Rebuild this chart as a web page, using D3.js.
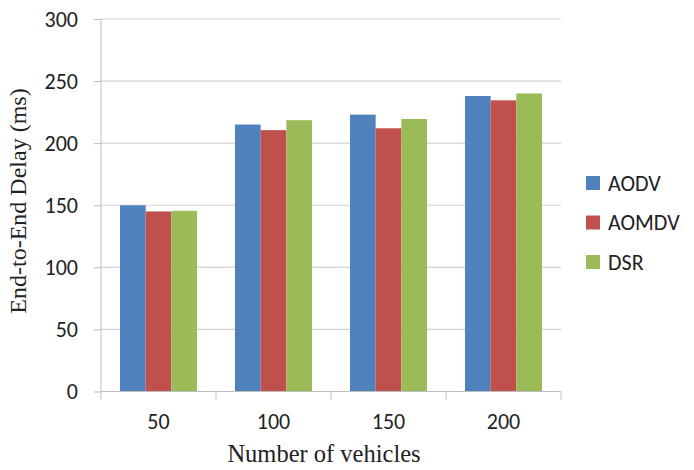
<!DOCTYPE html>
<html><head><meta charset="utf-8">
<script src="https://cdn.jsdelivr.net/npm/d3@7"></script>
<style>body{margin:0;background:#fff}svg{display:block}</style>
</head><body><svg id="c" width="694" height="470"></svg>
<script>
const categories = ["50", "100", "150", "200"];
const seriesNames = ["AODV", "AOMDV", "DSR"];
const aodv = [150, 215, 223, 238];
const aomdv = [145, 210.5, 212, 234.5];
const dsr = [145.5, 218.5, 219.5, 240];
const yTicks = [0, 50, 100, 150, 200, 250, 300];
const colors = ["#4F81BD", "#C0504D", "#9BBB59"];
const seriesValues = [aodv, aomdv, dsr];

(function () {
const svg = d3.select("#c");
const mLeft = 101, mRight = 561, mTop = 19, mBottom = 391.5;
const sans = "Carlito, Lato, 'Open Sans', sans-serif";
const serif = "'Liberation Serif', 'Times New Roman', serif";

const x0 = d3.scaleBand().domain(categories).range([mLeft, mRight]).paddingInner(0.33).paddingOuter(0.165);
const x1 = d3.scaleBand().domain(seriesNames).range([0, x0.bandwidth()]);
const y = d3.scaleLinear().domain([0, 300]).range([mBottom, mTop]);

svg.append("g").selectAll("line").data(yTicks.filter(d => d > 0)).join("line")
  .attr("x1", mLeft).attr("x2", mRight)
  .attr("y1", d => y(d)).attr("y2", d => y(d))
  .attr("stroke", "#d4d4d4").attr("stroke-width", 1.2);

const groups = svg.append("g").selectAll("g").data(categories).join("g")
  .attr("transform", c => `translate(${x0(c)},0)`);
groups.selectAll("rect").data((c, i) => seriesNames.map((s, j) => ({s, v: seriesValues[j][i], j})))
  .join("rect")
  .attr("x", d => x1(d.s)).attr("width", x1.bandwidth())
  .attr("y", d => y(d.v)).attr("height", d => y(0) - y(d.v))
  .attr("fill", d => colors[d.j]);

const yAxis = d3.axisLeft(y).tickValues(yTicks).tickSize(7).tickPadding(16);
const gy = svg.append("g").attr("transform", `translate(${mLeft},0)`).call(yAxis);
gy.select(".domain").attr("stroke", "#bdbdbd").attr("d", `M0,${mBottom}V${mTop}`);
gy.selectAll(".tick line").attr("stroke", "#bdbdbd");
gy.selectAll(".tick text").attr("font-family", sans).attr("font-size", 22).attr("fill", "#222");

const xAxis = d3.axisBottom(x0).tickSize(0).tickPadding(22);
const gx = svg.append("g").attr("transform", `translate(0,${mBottom})`).call(xAxis);
gx.select(".domain").attr("stroke", "#bdbdbd").attr("d", `M${mLeft},0H${mRight}`);
gx.selectAll(".tick text").attr("font-family", sans).attr("font-size", 22).attr("fill", "#222");
const step = x0.step();
const seps = d3.range(categories.length + 1).map(i => mLeft + i * step);
gx.append("g").selectAll("line").data(seps).join("line")
  .attr("x1", d => d).attr("x2", d => d).attr("y1", 0).attr("y2", 8)
  .attr("stroke", "#bdbdbd");

svg.append("text").attr("transform", `translate(26,201) rotate(-90)`)
  .attr("text-anchor", "middle").attr("font-family", serif)
  .attr("font-size", 24).attr("fill", "#222").text("End-to-End Delay (ms)");
svg.append("text").attr("x", 324).attr("y", 462)
  .attr("text-anchor", "middle").attr("font-family", serif)
  .attr("font-size", 24.5).attr("fill", "#222").text("Number of vehicles");

const lg = svg.append("g").selectAll("g").data(seriesNames).join("g")
  .attr("transform", (d, i) => `translate(586,${183 + i * 39.5})`);
lg.append("rect").attr("x", 0).attr("y", -7).attr("width", 14).attr("height", 14).attr("fill", (d, i) => colors[i]);
lg.append("text").attr("x", 22).attr("y", 0).attr("dy", "0.35em")
  .attr("font-family", sans).attr("font-size", 22).attr("fill", "#222").text(d => d);
})();
</script></body></html>
